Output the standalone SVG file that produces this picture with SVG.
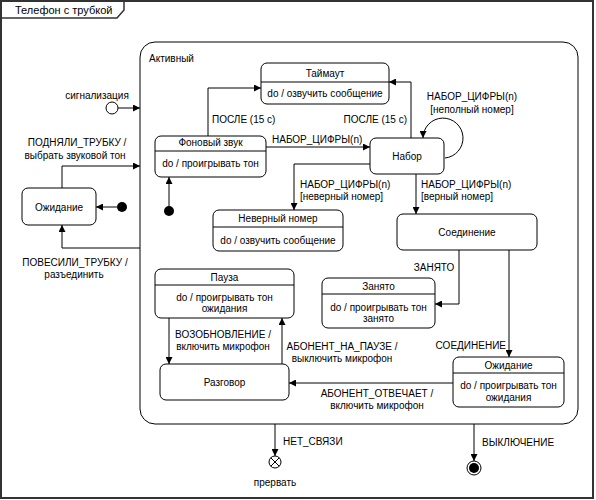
<svg xmlns="http://www.w3.org/2000/svg" width="596" height="500" viewBox="0 0 596 500">
<defs>
<marker id="arr" viewBox="0 0 10 10" refX="10" refY="5" markerWidth="7" markerHeight="7" markerUnits="userSpaceOnUse" orient="auto">
<path d="M0,0 L10,5 L0,10 Z" fill="#000"/>
</marker>
<style>
text{font-family:"Liberation Sans",Arial,sans-serif;font-size:10px;fill:#000}
.c{text-anchor:middle}
.e{text-anchor:end}
.st{fill:#fff;stroke:#000;stroke-width:1}
.dv{stroke:#000;stroke-width:1}
.cn{fill:none;stroke:#000;stroke-width:1;marker-end:url(#arr)}
</style>
</defs>
<rect x="0" y="0" width="596" height="500" fill="#fff"/>
<g id="frame">
<rect x="1" y="1" width="592" height="497" fill="none" stroke="#333" stroke-width="2"/>
<path d="M1,18 H117 L124,10 V1" fill="none" stroke="#333" stroke-width="1.5"/>
<text x="15" y="14" style="font-size:11px">Телефон с трубкой</text>
</g>
<g id="active">
<rect x="140" y="42" width="438" height="382" rx="15" ry="15" class="st"/>
<text x="149" y="62">Активный</text>
</g>
<g id="signal">
<circle cx="112" cy="108" r="6" fill="#fff" stroke="#000"/>
<text x="97" y="99" class="c">сигнализация</text>
</g>
<g id="init1"><circle cx="122" cy="207" r="5" fill="#000"/></g>
<g id="init2"><circle cx="169" cy="211" r="5" fill="#000"/></g>
<g id="idle">
<rect x="22" y="188" width="74" height="37" rx="6" class="st"/>
<text x="59" y="211" class="c">Ожидание</text>
</g>
<g id="bgsound">
<rect x="155" y="136" width="111" height="41" rx="6" class="st"/>
<line x1="155" y1="151" x2="266" y2="151" class="dv"/>
<text x="210.5" y="146" class="c">Фоновый звук</text>
<text x="210.5" y="167" class="c">do / проигрывать тон</text>
</g>
<g id="timeout">
<rect x="261" y="63" width="128" height="41" rx="6" class="st"/>
<line x1="261" y1="82" x2="389" y2="82" class="dv"/>
<text x="325" y="77" class="c">Таймаут</text>
<text x="325" y="97" class="c">do / озвучить сообщение</text>
</g>
<g id="dial">
<rect x="370" y="138" width="74" height="36" rx="6" class="st"/>
<text x="407" y="160" class="c">Набор</text>
</g>
<g id="wrong">
<rect x="213" y="210" width="130" height="41" rx="6" class="st"/>
<line x1="213" y1="227" x2="343" y2="227" class="dv"/>
<text x="278" y="222" class="c">Неверный номер</text>
<text x="278" y="244" class="c">do / озвучить сообщение</text>
</g>
<g id="connect">
<rect x="397" y="214" width="140" height="36" rx="6" class="st"/>
<text x="467" y="236" class="c">Соединение</text>
</g>
<g id="busy">
<rect x="322" y="278" width="113" height="50" rx="6" class="st"/>
<line x1="322" y1="294" x2="435" y2="294" class="dv"/>
<text x="378.5" y="290" class="c">Занято</text>
<text x="378.5" y="311" class="c">do / проигрывать тон</text>
<text x="378.5" y="322" class="c">занято</text>
</g>
<g id="waiting">
<rect x="453" y="357" width="111" height="50" rx="6" class="st"/>
<line x1="453" y1="373" x2="564" y2="373" class="dv"/>
<text x="508.5" y="369" class="c">Ожидание</text>
<text x="508.5" y="389" class="c">do / проигрывать тон</text>
<text x="508.5" y="401" class="c">ожидания</text>
</g>
<g id="pause">
<rect x="155" y="269" width="139" height="49" rx="6" class="st"/>
<line x1="155" y1="285" x2="294" y2="285" class="dv"/>
<text x="224.5" y="281" class="c">Пауза</text>
<text x="224.5" y="301" class="c">do / проигрывать тон</text>
<text x="224.5" y="312" class="c">ожидания</text>
</g>
<g id="talk">
<rect x="160" y="364" width="129" height="36" rx="6" class="st"/>
<text x="224.5" y="386" class="c">Разговор</text>
</g>
<g id="abort">
<circle cx="275" cy="462" r="6" fill="#fff" stroke="#000"/>
<path d="M270.8,457.8 L279.2,466.2 M279.2,457.8 L270.8,466.2" stroke="#000" stroke-width="1"/>
<text x="275" y="486" class="c">прервать</text>
</g>
<g id="final">
<circle cx="474" cy="468" r="7" fill="#fff" stroke="#000"/>
<circle cx="474" cy="468" r="5" fill="#000"/>
</g>
<g id="connectors">
<path d="M118,108 H140" class="cn"/>
<path d="M62,188 V166 H140" class="cn"/>
<path d="M140,248 H62 V225" class="cn"/>
<path d="M117,207 H96" class="cn"/>
<path d="M169,206 V177" class="cn"/>
<path d="M208,136 V88 H261" class="cn"/>
<path d="M411,138 V82 H389" class="cn"/>
<path d="M266,147 H370" class="cn"/>
<path d="M445,158 A20,20 0 1 0 423,138" class="cn"/>
<path d="M370,164 H294 V210" class="cn"/>
<path d="M416,174 V214" class="cn"/>
<path d="M459,250 V304 H435" class="cn"/>
<path d="M509,250 V357" class="cn"/>
<path d="M453,383 H289" class="cn"/>
<path d="M169,318 V364" class="cn"/>
<path d="M282,364 V318" class="cn"/>
<path d="M275,424 V456" class="cn"/>
<path d="M474,424 V461" class="cn"/>
</g>
<g id="labels">
<text x="77" y="146" class="c">ПОДНЯЛИ_ТРУБКУ /</text>
<text x="75" y="159" class="c">выбрать звуковой тон</text>
<text x="75" y="266" class="c">ПОВЕСИЛИ_ТРУБКУ /</text>
<text x="74" y="278" class="c">разъединить</text>
<text x="212" y="123">ПОСЛЕ (15 с)</text>
<text x="407" y="123" class="e">ПОСЛЕ (15 с)</text>
<text x="272" y="143">НАБОР_ЦИФРЫ(n)</text>
<text x="472" y="100" class="c">НАБОР_ЦИФРЫ(n)</text>
<text x="472" y="113" class="c">[неполный номер]</text>
<text x="300" y="188">НАБОР_ЦИФРЫ(n)</text>
<text x="300" y="200">[неверный номер]</text>
<text x="421" y="188">НАБОР_ЦИФРЫ(n)</text>
<text x="421" y="200">[верный номер]</text>
<text x="434" y="271" class="c">ЗАНЯТО</text>
<text x="506" y="349" class="e">СОЕДИНЕНИЕ</text>
<text x="377" y="397" class="c">АБОНЕНТ_ОТВЕЧАЕТ /</text>
<text x="377" y="409" class="c">включить микрофон</text>
<text x="223" y="338" class="c">ВОЗОБНОВЛЕНИЕ /</text>
<text x="223" y="350" class="c">включить микрофон</text>
<text x="342" y="350" class="c">АБОНЕНТ_НА_ПАУЗЕ /</text>
<text x="342" y="362" class="c">выключить микрофон</text>
<text x="283" y="445">НЕТ_СВЯЗИ</text>
<text x="482" y="446">ВЫКЛЮЧЕНИЕ</text>
</g>
</svg>
